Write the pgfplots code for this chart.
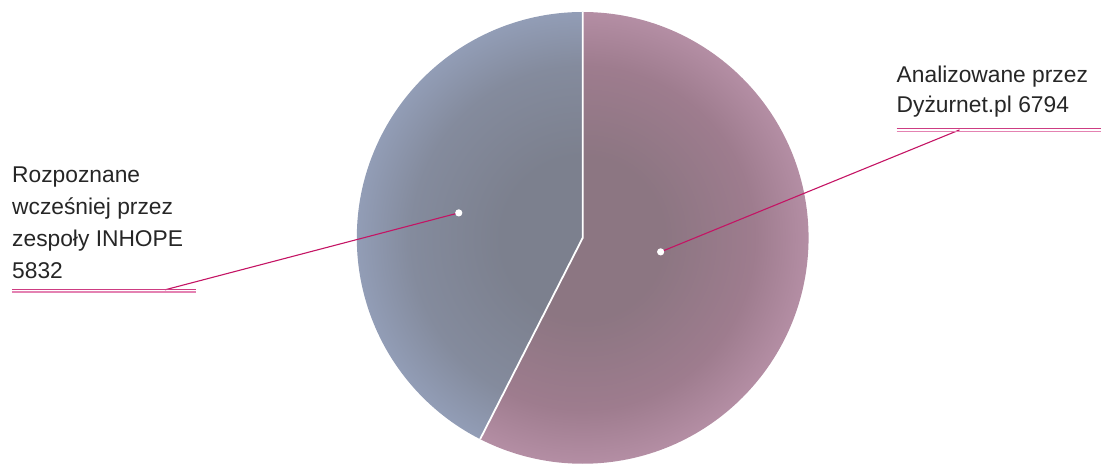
\documentclass[border=0pt]{standalone}
\usepackage{pgfplots}
\pgfplotsset{compat=1.18}
\usepackage{fontspec}
\setmainfont{Liberation Sans}
\definecolor{txt}{RGB}{38,38,38}
\definecolor{lead}{RGB}{196,20,100}
\definecolor{ulA}{RGB}{205,60,130}
\definecolor{ulB}{RGB}{228,130,178}
\definecolor{bIn}{RGB}{124,128,142}
\definecolor{bMid}{RGB}{132,139,157}
\definecolor{bOut}{RGB}{146,157,182}
\definecolor{pIn}{RGB}{140,118,130}
\definecolor{pMid}{RGB}{158,124,142}
\definecolor{pOut}{RGB}{180,142,164}
\pgfdeclareradialshading{bluepie}{\pgfpoint{0bp}{0bp}}{color(0bp)=(bIn); color(9bp)=(bIn); color(19bp)=(bMid); color(25bp)=(bOut); color(50bp)=(bOut)}
\pgfdeclareradialshading{pinkpie}{\pgfpoint{0bp}{0bp}}{color(0bp)=(pIn); color(9bp)=(pIn); color(19bp)=(pMid); color(25bp)=(pOut); color(50bp)=(pOut)}
% values: Dyzurnet.pl 6794, INHOPE 5832; split angle
\def\splitangle{-117}
\begin{document}
\begin{tikzpicture}
\begin{axis}[
  x=1pt, y=1pt, xmin=0, xmax=1102, ymin=0, ymax=464,
  scale only axis, hide axis, clip=false,
]
\path (axis cs:0,0) rectangle (axis cs:1102,464);
% pink slice (6794)
\begin{scope}
\clip (axis cs:583,226) -- ++(90:226pt) arc[start angle=90, end angle=\splitangle, radius=226pt] -- cycle;
\shade[shading=pinkpie] (axis cs:583,226) circle[radius=226pt];
\end{scope}
% blue slice (5832)
\begin{scope}
\clip (axis cs:583,226) -- ++(\splitangle:226pt) arc[start angle=\splitangle, end angle=-270, radius=226pt] -- cycle;
\shade[shading=bluepie] (axis cs:583,226) circle[radius=226pt];
\end{scope}
% divider
\draw[white, line width=1.8pt] (axis cs:583,452) -- (axis cs:583,226) -- ++(\splitangle:226pt);
% leader lines
\draw[lead, line width=1.1pt] (axis cs:459,251) -- (axis cs:165,174);
\draw[lead, line width=1.1pt] (axis cs:661,212) -- (axis cs:960,334);
\fill[white] (axis cs:459,251) circle[radius=3.6pt];
\fill[white] (axis cs:661,212) circle[radius=3.6pt];
% underlines
\draw[ulA, line width=1.2pt] (axis cs:12,174.6) -- (axis cs:196,174.6);
\draw[ulB, line width=1.2pt] (axis cs:12,171.8) -- (axis cs:196,171.8);
\draw[ulA, line width=1.2pt] (axis cs:897,335.3) -- (axis cs:1102,335.3);
\draw[ulB, line width=1.2pt] (axis cs:897,332.5) -- (axis cs:1102,332.5);
% labels
\tikzset{lbl/.style={anchor=base west, inner sep=0pt, text=txt, font=\fontsize{22.8}{26}\selectfont}}
\node[lbl] at (axis cs:12,281) {Rozpoznane};
\node[lbl] at (axis cs:12,249) {wcześniej przez};
\node[lbl] at (axis cs:12,217) {zespoły INHOPE};
\node[lbl] at (axis cs:12,185) {5832};
\node[lbl] at (axis cs:897,381) {Analizowane przez};
\node[lbl] at (axis cs:897,351) {Dyżurnet.pl 6794};
\end{axis}
\end{tikzpicture}
\end{document}
